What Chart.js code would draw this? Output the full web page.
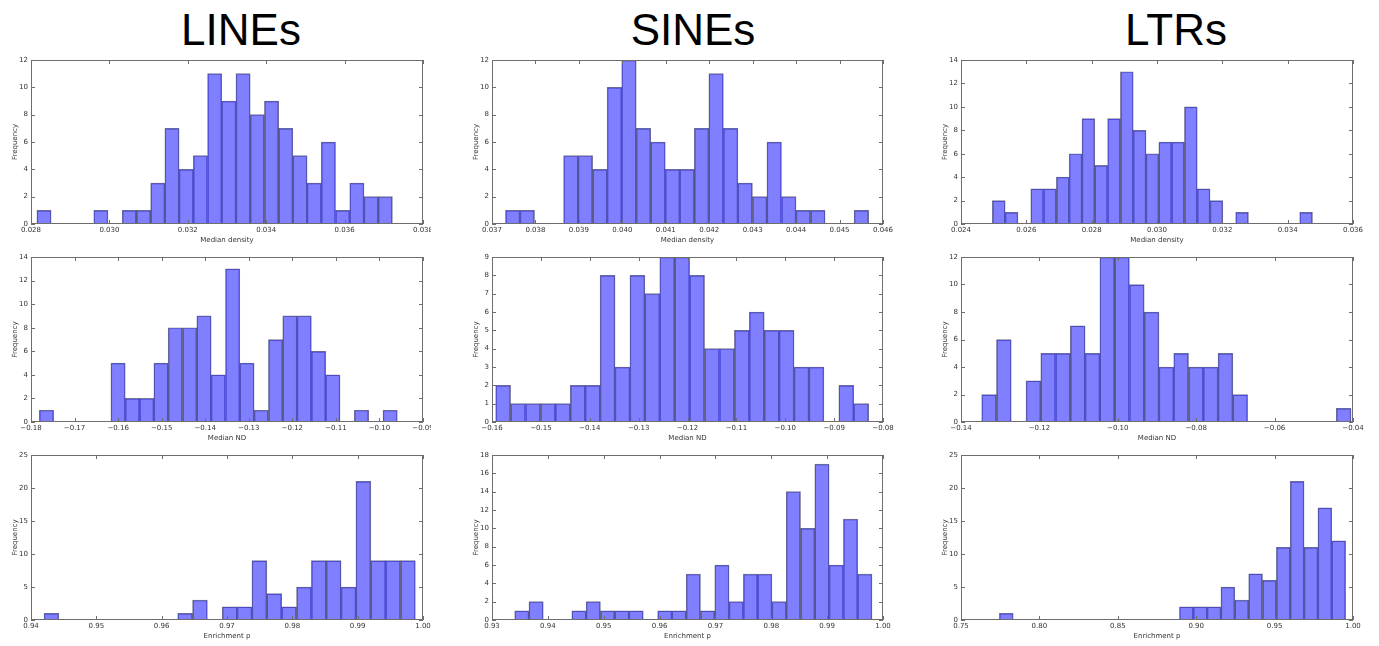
<!DOCTYPE html>
<html>
<head>
<meta charset="utf-8">
<script src="https://cdn.jsdelivr.net/npm/chart.js@4.4.0/dist/chart.umd.min.js"></script>
<style>
html,body{margin:0;padding:0;background:#fff;}
#stage{position:relative;width:1379px;height:646px;overflow:hidden;background:#fff;}
.col-title{position:absolute;top:8px;font-family:"Liberation Sans",Arial,sans-serif;font-size:44px;line-height:44px;color:#000;transform:translateX(-50%);white-space:nowrap;}
canvas{position:absolute;}
</style>
</head>
<body>
<div id="stage">
  <div class="col-title" style="left:241px">LINEs</div>
  <div class="col-title" style="left:693px">SINEs</div>
  <div class="col-title" style="left:1176px">LTRs</div>
</div>
<script>
// ---------- DATA (histogram counts, 25 bins each; bin range = [first edge, last edge]) ----------
const columnTitles = ['LINEs', 'SINEs', 'LTRs'];

const linesDensityCounts = [1,0,0,0,1,0,1,1,3,7,4,5,11,9,11,8,9,7,5,3,6,1,3,2,2];
const linesDensityRange  = [0.02815, 0.03722];
const linesDensityXTicks = [0.028,0.030,0.032,0.034,0.036,0.038];
const linesDensityYTicks = [0,2,4,6,8,10,12];

const sinesDensityCounts = [1,1,0,0,5,5,4,10,12,7,6,4,4,7,11,7,3,2,6,2,1,1,0,0,1];
const sinesDensityRange  = [0.03731, 0.04567];
const sinesDensityXTicks = [0.037,0.038,0.039,0.040,0.041,0.042,0.043,0.044,0.045,0.046];
const sinesDensityYTicks = [0,2,4,6,8,10,12];

const ltrsDensityCounts = [2,1,0,3,3,4,6,9,5,9,13,8,6,7,7,10,3,2,0,1,0,0,0,0,1];
const ltrsDensityRange  = [0.02496, 0.03476];
const ltrsDensityXTicks = [0.024,0.026,0.028,0.030,0.032,0.034,0.036];
const ltrsDensityYTicks = [0,2,4,6,8,10,12,14];

const linesNDCounts = [1,0,0,0,0,5,2,2,5,8,8,9,4,13,5,1,7,9,9,6,4,0,1,0,1];
const linesNDRange  = [-0.17809, -0.0959];
const linesNDXTicks = [-0.18,-0.17,-0.16,-0.15,-0.14,-0.13,-0.12,-0.11,-0.10,-0.09];
const linesNDYTicks = [0,2,4,6,8,10,12,14];

const sinesNDCounts = [2,1,1,1,1,2,2,8,3,8,7,9,9,8,4,4,5,6,5,5,3,3,0,2,1];
const sinesNDRange  = [-0.15925, -0.08293];
const sinesNDXTicks = [-0.16,-0.15,-0.14,-0.13,-0.12,-0.11,-0.10,-0.09,-0.08];
const sinesNDYTicks = [0,1,2,3,4,5,6,7,8,9];

const ltrsNDCounts = [2,6,0,3,5,5,7,5,12,12,10,8,4,5,4,4,5,2,0,0,0,0,0,0,1];
const ltrsNDRange  = [-0.13472, -0.0405];
const ltrsNDXTicks = [-0.14,-0.12,-0.10,-0.08,-0.06,-0.04];
const ltrsNDYTicks = [0,2,4,6,8,10,12];

const linesEnrichCounts = [1,0,0,0,0,0,0,0,0,1,3,0,2,2,9,4,2,5,9,9,5,21,9,9,9];
const linesEnrichRange  = [0.94199, 0.99883];
const linesEnrichXTicks = [0.94,0.95,0.96,0.97,0.98,0.99,1.00];
const linesEnrichYTicks = [0,5,10,15,20,25];

const sinesEnrichCounts = [1,2,0,0,1,2,1,1,1,0,1,1,5,1,6,2,5,5,2,14,10,17,6,11,5];
const sinesEnrichRange  = [0.93406, 0.99803];
const sinesEnrichXTicks = [0.93,0.94,0.95,0.96,0.97,0.98,0.99,1.00];
const sinesEnrichYTicks = [0,2,4,6,8,10,12,14,16,18];

const ltrsEnrichCounts = [1,0,0,0,0,0,0,0,0,0,0,0,0,2,2,2,5,3,7,6,11,21,11,17,12];
const ltrsEnrichRange  = [0.77447, 0.9953];
const ltrsEnrichXTicks = [0.75,0.80,0.85,0.90,0.95,1.00];
const ltrsEnrichYTicks = [0,5,10,15,20,25];

// ---------- LAYOUT ----------
const colLeft = [31, 492, 961];
const colWidth = [392, 391, 392];
const colRightPad = [8, 14, 14];
const rowTop = [60, 257, 455];
const rowHeight = [164, 165, 165];

const panels = [
  {r:0,c:0,counts:linesDensityCounts,range:linesDensityRange,xt:linesDensityXTicks,yt:linesDensityYTicks,dec:3,label:'Median density'},
  {r:0,c:1,counts:sinesDensityCounts,range:sinesDensityRange,xt:sinesDensityXTicks,yt:sinesDensityYTicks,dec:3,label:'Median density'},
  {r:0,c:2,counts:ltrsDensityCounts,range:ltrsDensityRange,xt:ltrsDensityXTicks,yt:ltrsDensityYTicks,dec:3,label:'Median density'},
  {r:1,c:0,counts:linesNDCounts,range:linesNDRange,xt:linesNDXTicks,yt:linesNDYTicks,dec:2,label:'Median ND'},
  {r:1,c:1,counts:sinesNDCounts,range:sinesNDRange,xt:sinesNDXTicks,yt:sinesNDYTicks,dec:2,label:'Median ND'},
  {r:1,c:2,counts:ltrsNDCounts,range:ltrsNDRange,xt:ltrsNDXTicks,yt:ltrsNDYTicks,dec:2,label:'Median ND'},
  {r:2,c:0,counts:linesEnrichCounts,range:linesEnrichRange,xt:linesEnrichXTicks,yt:linesEnrichYTicks,dec:2,label:'Enrichment p'},
  {r:2,c:1,counts:sinesEnrichCounts,range:sinesEnrichRange,xt:sinesEnrichXTicks,yt:sinesEnrichYTicks,dec:2,label:'Enrichment p'},
  {r:2,c:2,counts:ltrsEnrichCounts,range:ltrsEnrichRange,xt:ltrsEnrichXTicks,yt:ltrsEnrichYTicks,dec:2,label:'Enrichment p'}
];

const AXIS_W = 31, TOP_PAD = 8, XAXIS_H = 26;
const FRAME = '#6e6e6e';
const TXT = '#333';
const FONT = {family: '"DejaVu Sans", sans-serif', size: 7};

function fmt(v, d) {
  const s = Math.abs(v).toFixed(d);
  return (v < -1e-12 ? '\u2212' : '') + s;
}

const framePlugin = {
  id: 'mplFrame',
  afterDatasetsDraw(chart) {
    const {ctx, chartArea: a, scales} = chart;
    const x = scales.x, y = scales.y;
    ctx.save();
    ctx.strokeStyle = FRAME;
    ctx.lineWidth = 1;
    ctx.beginPath();
    x.ticks.forEach(t => {
      const px = Math.round(x.getPixelForValue(t.value)) + 0.5;
      ctx.moveTo(px, a.bottom); ctx.lineTo(px, a.bottom - 4);
      ctx.moveTo(px, a.top); ctx.lineTo(px, a.top + 4);
    });
    y.ticks.forEach(t => {
      const py = Math.round(y.getPixelForValue(t.value)) + 0.5;
      ctx.moveTo(a.left, py); ctx.lineTo(a.left + 4, py);
      ctx.moveTo(a.right, py); ctx.lineTo(a.right - 4, py);
    });
    ctx.stroke();
    ctx.strokeRect(Math.round(a.left) + 0.5, Math.round(a.top) + 0.5,
                   Math.round(a.right - a.left) - 1, Math.round(a.bottom - a.top) - 1);
    ctx.restore();
  }
};

const stage = document.getElementById('stage');

panels.forEach(p => {
  const plotL = colLeft[p.c], plotT = rowTop[p.r];
  const plotW = colWidth[p.c], plotH = rowHeight[p.r];
  const cw = AXIS_W + plotW + colRightPad[p.c];
  const ch = TOP_PAD + plotH + XAXIS_H;
  const cv = document.createElement('canvas');
  cv.width = cw; cv.height = ch;
  cv.style.left = (plotL - AXIS_W) + 'px';
  cv.style.top = (plotT - TOP_PAD) + 'px';
  cv.style.width = cw + 'px'; cv.style.height = ch + 'px';
  stage.appendChild(cv);

  const n = p.counts.length;
  const w = (p.range[1] - p.range[0]) / n;
  const data = p.counts.map((c, i) => ({x: p.range[0] + w * (i + 0.5), y: c}));
  const xMin = p.xt[0], xMax = p.xt[p.xt.length - 1];
  const yMax = p.yt[p.yt.length - 1];

  new Chart(cv, {
    type: 'bar',
    data: {
      datasets: [{
        data: data,
        backgroundColor: 'rgba(0,0,255,0.5)',
        borderColor: 'rgba(10,10,60,0.55)',
        borderWidth: 0.8,
        barPercentage: 1,
        categoryPercentage: 1
      }]
    },
    options: {
      responsive: false,
      animation: false,
      devicePixelRatio: 1,
      layout: {padding: {top: TOP_PAD, right: colRightPad[p.c], left: 0, bottom: 0}},
      plugins: {legend: {display: false}, tooltip: {enabled: false}},
      scales: {
        x: {
          type: 'linear', min: xMin, max: xMax, offset: false,
          grid: {display: false, drawTicks: false, offset: false},
          border: {display: false},
          afterBuildTicks: s => { s.ticks = p.xt.map(v => ({value: v})); },
          ticks: {autoSkip: false, maxRotation: 0, minRotation: 0, padding: 2,
                  font: FONT, color: TXT, callback: v => fmt(v, p.dec)},
          title: {display: true, text: p.label, font: FONT, color: TXT, padding: {top: 0, bottom: 6}},
          afterFit: s => { s.height = XAXIS_H; s.paddingLeft = 0; s.paddingRight = 0; }
        },
        y: {
          type: 'linear', min: 0, max: yMax,
          grid: {display: false, drawTicks: false},
          border: {display: false},
          afterBuildTicks: s => { s.ticks = p.yt.map(v => ({value: v})); },
          ticks: {autoSkip: false, padding: 3, font: FONT, color: TXT, callback: v => String(v)},
          title: {display: true, text: 'Frequency', font: FONT, color: TXT, padding: {top: 11, bottom: 0}},
          afterFit: s => { s.width = AXIS_W; s.paddingTop = 0; s.paddingBottom = 0; }
        }
      }
    },
    plugins: [framePlugin]
  });
});
</script>
</body>
</html>
